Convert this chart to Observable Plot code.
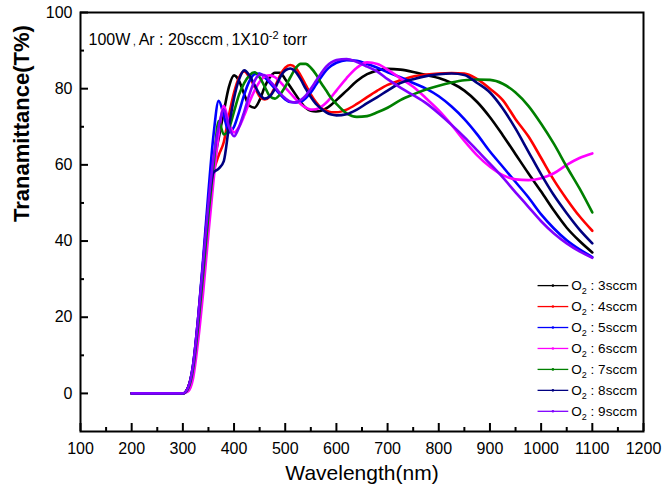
<!DOCTYPE html>
<html><head><meta charset="utf-8">
<script src="https://cdn.jsdelivr.net/npm/d3@7"></script>
<script src="https://cdn.jsdelivr.net/npm/@observablehq/plot@0.6"></script>
<style>
html,body{margin:0;padding:0;background:#fff;}
#chart{width:664px;height:495px;}
</style></head><body><div id="chart"></div>
<script>
// ---- data ----
const wavelength = [200,250,300,310,320,330,340,350,360,370,380,390,400,410,420,430,440,450,460,470,480,490,500,510,520,530,540,550,560,570,580,590,600,620,640,660,680,700,725,750,775,800,825,850,875,900,925,950,975,1000,1025,1050,1075,1100];
const o2_3 = [0,0,0, 1.5,7,19,33,48,60,67,74,80.5,83.5, 82,78.5,75.5,75,77,80.5,83,84.2,84.2,82.5, 80.5,78.5,76.5,75,74.2,74,74.2,74.8,75.8,77, 79.5,82,83.8,84.8,85.2, 85,84.4,83.6,82.8,81.5,79.5,76.5,72.5,67.8,62.8,57.8,53,48,43.5,40,37];
const o2_4 = [0,0,0, 1.5,7,19,33,48,58,62.5,66,73,79, 83,84.5,83,80.5,78,77.2,78,80.5,83.5,85.5, 86.2,85.5,83.5,81,78.5,76.5,75,74.2,73.8,73.8, 74.5,76,77.8,79.5,81, 82.2,83.2,83.7,84,84.1,84,82.5,80,77,72,67.5,61.8,56,51,46.5,42.7];
const o2_5 = [0,0,0, 1.5,7.5,20,36,53,68,76.8,73,68.5,70, 74,78.5,82,83.8,84,83,81.5,80,78.5,77.2, 76.5,76.4,76.5,77.5,79,81,83,84.8,86,86.8, 87.5,87.3,86.5,85.5,84.3, 83,81.5,80,78,75.3,72,68,63.5,59.5,55.5,51.5,47,43.3,40.2,37.8,35.8];
const o2_6 = [0,0,0, 0.5,4,14,27,42,56,68,75.5,71,68.5, 70,73,76.5,79.5,81.8,83.2,83.5,83,81.8,80.3, 78.8,77.3,76,75,74.5,74.6,75.2,76.3,77.8,79.5, 82.8,85.5,86.9,86.5,85, 82.7,80.5,77.5,74.3,70.5,66.3,62.5,59.5,57.3,56.2,56,56.5,57.8,60,61.8,63];
const o2_7 = [0,0,0, 1.2,6.5,18,32,47,60,71.5,68,69.5,74, 78.5,81.5,83.5,84.3,83,80.5,78,77.4,78.5,80.5, 83,85.3,86.5,86.5,85.5,83.8,81.5,79.5,77.5,76, 73.5,72.6,72.8,73.8,75, 77,78.5,79.8,80.8,81.6,82.2,82.4,82.3,81.3,79,75.5,70.8,65.5,59.5,53.8,47.5];
const o2_8 = [0,0,0, 1.5,7.5,20,35,50,58,59,61,70,77.5, 82.5,84.8,83.5,81,78.5,77.4,78,80,83,84.8, 85.3,84.5,82.5,80,77.8,76,74.8,73.8,73.2,73, 73.3,74.5,76.2,77.8,79.5, 81.5,82.5,83.3,83.8,84,83.6,81.5,79,74.8,69.5,63.5,57.5,52,47.3,43,39.4];
const o2_9 = [0,0,0, 1.5,7.5,20,35,50,62,70,74.5,70,67.5, 70,74,78.5,82,83.7,83.5,82,80.5,78.8,77.5, 76.6,76.4,77,78.2,80,82,84,85.8,86.9,87.5, 87.8,87,85.8,84.5,82.5, 80.3,78.3,76.2,73.5,70.5,67.3,63.8,60.3,56.7,52.8,49,45.2,42,39.4,37.3,35.6];
const seriesNames = ["O2 : 3sccm","O2 : 4sccm","O2 : 5sccm","O2 : 6sccm","O2 : 7sccm","O2 : 8sccm","O2 : 9sccm"];
const seriesColors = ["#000000","#ff0000","#0000ff","#ff00ff","#008000","#000080","#8000ff"];
const xTicks = [100,200,300,400,500,600,700,800,900,1000,1100,1200];
const xMinorTicks = [150,250,350,450,550,650,750,850,950,1050,1150];
const yTicks = [0,20,40,60,80,100];
const yMinorTicks = [10,30,50,70,90];
const xTitle = "Wavelength(nm)";
const yTitle = "Tranamittance(T%)";
const annotation = "100W , Ar : 20sccm , 1X10-2 torr";

// ---- build ----
const seriesValues = [o2_3,o2_4,o2_5,o2_6,o2_7,o2_8,o2_9];
const rows = [];
seriesValues.forEach((vals, s) => vals.forEach((v, i) => rows.push({series: seriesNames[s], x: wavelength[i], y: v})));

// legend layout in data units
const legX1 = 993, legX2 = 1053, legTX = 1059, legTop = 28.3, legStep = 5.5;
const legend = seriesNames.map((name, i) => ({name, y: legTop - i * legStep, x1: legX1, x2: legX2, xm: (legX1 + legX2) / 2, tx: legTX}));

const font = "'Liberation Sans', Arial, Helvetica, sans-serif";
const chart = Plot.plot({
  width: 664, height: 495,
  marginLeft: 80, marginRight: 21, marginTop: 12, marginBottom: 64,
  style: {fontFamily: font, fontSize: "16px", color: "black", background: "white"},
  x: {domain: [100, 1200]},
  y: {domain: [-10, 100]},
  color: {domain: seriesNames, range: seriesColors},
  marks: [
    Plot.line(rows, {x: "x", y: "y", z: "series", stroke: "series", strokeWidth: 2.6, curve: "monotone-x"}),
    Plot.frame({stroke: "black", strokeWidth: 2}),
    Plot.axisX({ticks: xTicks, tickSize: -8, tickPadding: 19, strokeWidth: 2, fontSize: 16, label: null, tickFormat: d => String(d)}),
    Plot.axisX({ticks: xMinorTicks, tickSize: -4, strokeWidth: 2, tickFormat: () => "", label: null}),
    Plot.axisY({ticks: yTicks, tickSize: -8, tickPadding: 16, strokeWidth: 2, fontSize: 16, label: null, tickFormat: d => String(d)}),
    Plot.axisY({ticks: yMinorTicks, tickSize: -4, strokeWidth: 2, tickFormat: () => "", label: null}),
    Plot.text([xTitle], {frameAnchor: "bottom", dy: 48, fontSize: 21, text: d => d}),
    Plot.text([yTitle], {frameAnchor: "left", dx: -59, rotate: -90, fontSize: 22, fontWeight: "bold", text: d => d}),
    Plot.text([annotation], {frameAnchor: "top-left", dx: 8, dy: 21, textAnchor: "start", fontSize: 16, text: d => d}),
    Plot.link(legend, {x1: "x1", x2: "x2", y1: "y", y2: "y", stroke: "name", strokeWidth: 1.3}),
    Plot.dot(legend, {x: "xm", y: "y", fill: "name", r: 1.3}),
    Plot.text(legend, {x: "tx", y: "y", text: "name", textAnchor: "start", fontSize: 13.5, fill: "black"})
  ]
});
document.getElementById("chart").appendChild(chart);

// subscript / superscript formatting of the texts
d3.select(chart).selectAll("text").each(function() {
  const el = d3.select(this);
  const t = this.textContent;
  if (/^O2 : /.test(t) && this.children.length === 0) {
    el.text("");
    el.append("tspan").text("O");
    el.append("tspan").attr("font-size", 9).attr("dy", 4).text("2");
    el.append("tspan").attr("dy", -4).text(" : " + t.slice(5));
  } else if (t === annotation) {
    el.text("");
    el.append("tspan").text("100W");
    el.append("tspan").attr("font-size", 10).text(" , ");
    el.append("tspan").text("Ar : 20sccm");
    el.append("tspan").attr("font-size", 10).text(" , ");
    el.append("tspan").text("1X10");
    el.append("tspan").attr("font-size", 11).attr("dy", -6).text("-2");
    el.append("tspan").attr("dy", 6).text(" torr");
  }
});
</script></body></html>
